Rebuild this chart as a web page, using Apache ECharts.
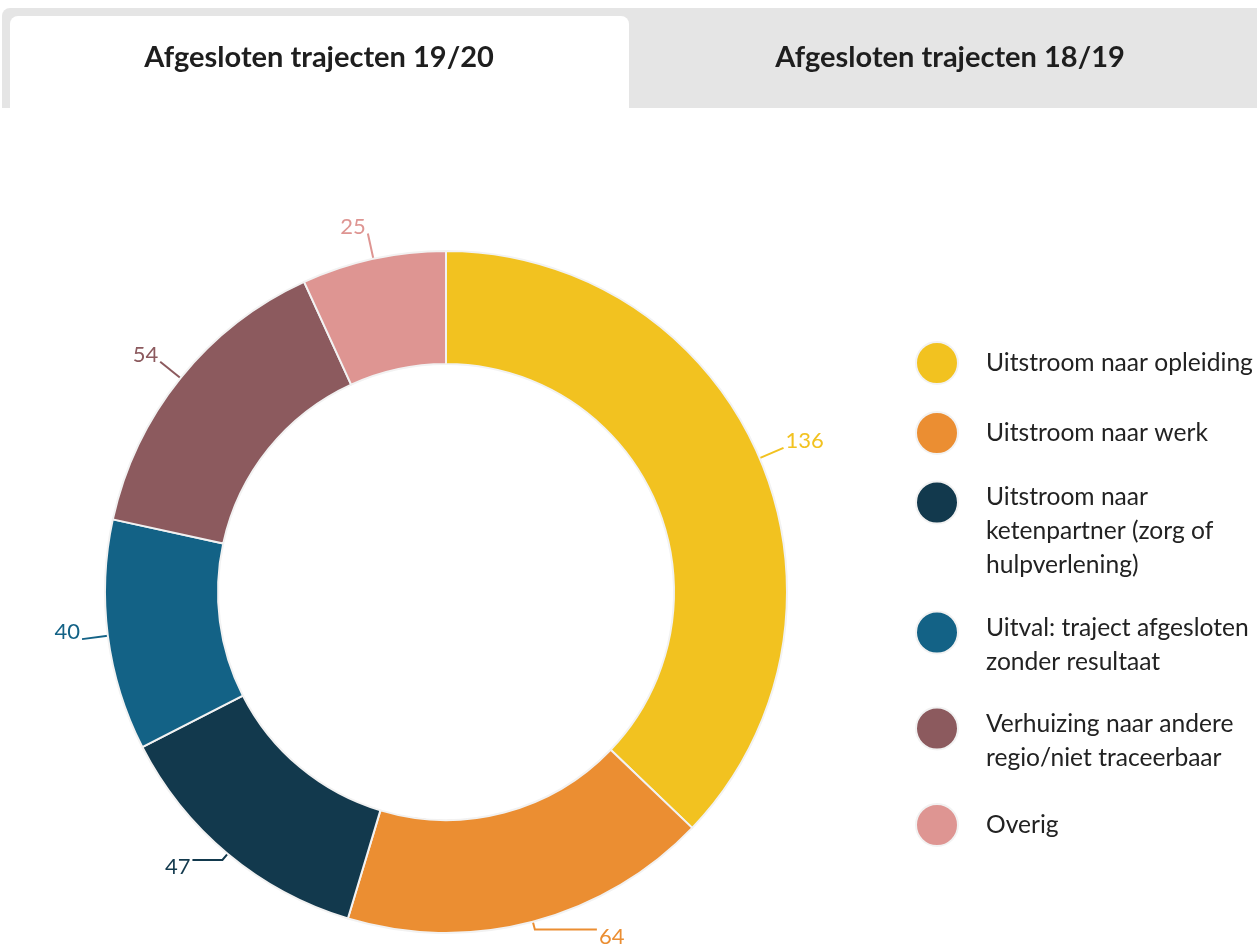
<!DOCTYPE html>
<html>
<head>
  <meta charset="UTF-8" />
  <title>Afgesloten trajecten</title>
  <script src="https://cdn.jsdelivr.net/npm/echarts@6/dist/echarts.min.js"></script>
  <style>
    body { margin: 0; background: #fff; }
    #main { width: 1257px; height: 948px; }
  </style>
</head>
<body>
  <div id="main"></div>
  <script>
    // data
    const categories = [
      'Uitstroom naar opleiding',
      'Uitstroom naar werk',
      'Uitstroom naar ketenpartner (zorg of hulpverlening)',
      'Uitval: traject afgesloten zonder resultaat',
      'Verhuizing naar andere regio/niet traceerbaar',
      'Overig'
    ];
    const legendLines = [
      ['Uitstroom naar opleiding'],
      ['Uitstroom naar werk'],
      ['Uitstroom naar', 'ketenpartner (zorg of', 'hulpverlening)'],
      ['Uitval: traject afgesloten', 'zonder resultaat'],
      ['Verhuizing naar andere', 'regio/niet traceerbaar'],
      ['Overig']
    ];
    const values = [136, 64, 47, 40, 54, 25];
    const colors = ['#f2c220', '#eb8e32', '#12394d', '#136286', '#8c5a5e', '#de9592'];
    const tabs = ['Afgesloten trajecten 19/20', 'Afgesloten trajecten 18/19'];

    const FONT = 'Lato, "Open Sans", sans-serif';
    const LH = 34;

    // legend: one per entry so the circle lines up with the first text line
    const iconCenters = [362, 432, 502, 632, 728, 824];
    const spacer = { 1: 0, 2: 26, 3: 58 };
    const topOff = { 1: 21, 2: 34, 3: 51 };
    const legends = legendLines.map((lines, i) => {
      const n = lines.length;
      const body = lines.map(l => '{t|' + l + '}').join('\n');
      return {
        orient: 'vertical',
        left: 915,
        top: iconCenters[i] - topOff[n],
        padding: 0,
        itemWidth: 88,
        itemHeight: 42,
        icon: 'circle',
        selectedMode: false,
        data: [categories[i]],
        formatter: () => (n > 1 ? '{sp| }\n' : '') + body,
        textStyle: {
          color: '#222',
          rich: {
            sp: { fontSize: 1, lineHeight: spacer[n] },
            t: { fontSize: 24.6, lineHeight: LH, color: '#222', fontFamily: FONT }
          }
        }
      };
    });

    const pieData = categories.map((name, i) => {
      const d = {
        name: name,
        value: values[i],
        itemStyle: { color: colors[i] },
        label: { color: colors[i] }
      };
      if (i === 1) d.labelLine = { length: 8, length2: 62 };
      if (i === 2) d.labelLine = { length: 8, length2: 30 };
      return d;
    });

    const chart = echarts.init(document.getElementById('main'));
    chart.setOption({
      animation: false,
      graphic: [
        { type: 'rect', silent: true, shape: { x: 2, y: 8, width: 1255, height: 100, r: [8, 0, 0, 0] }, style: { fill: '#e5e5e5' } },
        { type: 'rect', silent: true, shape: { x: 10, y: 16, width: 619, height: 92, r: [8, 8, 0, 0] }, style: { fill: '#fff' } },
        { type: 'text', silent: true, x: 319, y: 58, style: { text: tabs[0], font: 'bold 29px ' + FONT, fill: '#1e1e1e', align: 'center', verticalAlign: 'middle' } },
        { type: 'text', silent: true, x: 950, y: 58, style: { text: tabs[1], font: 'bold 29px ' + FONT, fill: '#1e1e1e', align: 'center', verticalAlign: 'middle' } }
      ],
      legend: legends,
      series: [{
        type: 'pie',
        center: [446, 592],
        radius: [228, 341],
        startAngle: 90,
        clockwise: true,
        avoidLabelOverlap: false,
        itemStyle: { borderColor: '#f2f2f2', borderWidth: 2 },
        label: {
          show: true, position: 'outside', distanceToLabelLine: 2,
          // lift most labels a little above the line end, drop the two bottom ones
          formatter: p => (p.dataIndex === 1 || p.dataIndex === 2)
            ? '{s| }\n{v|' + p.value + '}'
            : '{v|' + p.value + '}\n{s| }',
          rich: {
            v: { fontSize: 22, fontFamily: FONT, lineHeight: 26 },
            s: { fontSize: 1, lineHeight: 14 }
          }
        },
        labelLine: { show: true, length: 26, length2: 0, lineStyle: { width: 2 } },
        emphasis: { disabled: true },
        data: pieData
      }]
    });
  </script>
</body>
</html>
